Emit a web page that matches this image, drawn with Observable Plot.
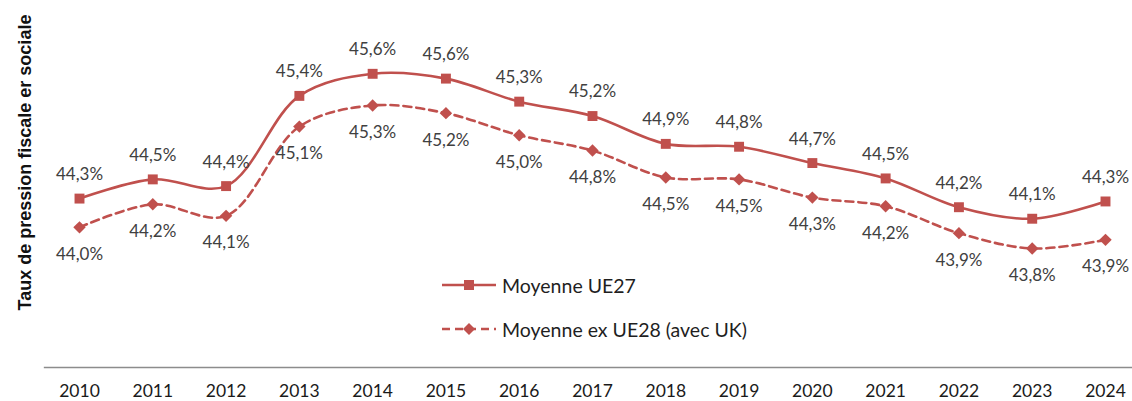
<!DOCTYPE html>
<html>
<head>
<meta charset="utf-8">
<script src="https://cdn.jsdelivr.net/npm/d3@7"></script>
<script src="https://cdn.jsdelivr.net/npm/@observablehq/plot@0.6"></script>
<style>
  html, body { margin: 0; padding: 0; background: #fff; }
  #wrap { position: relative; width: 1132px; height: 401px; }
  .legend { position: absolute; left: 442px; font-family: Lato, "Open Sans", sans-serif; font-size: 19.5px; color: #1f1f1f; display: flex; align-items: center; }
  .legend svg { margin-right: 6px; }
</style>
</head>
<body>
<div id="wrap"></div>
<script>
const years = [2010, 2011, 2012, 2013, 2014, 2015, 2016, 2017, 2018, 2019, 2020, 2021, 2022, 2023, 2024];
const ue27 = [44.33, 44.53, 44.46, 45.40, 45.63, 45.58, 45.34, 45.19, 44.90, 44.87, 44.70, 44.54, 44.24, 44.12, 44.30];
const exUe28 = [44.03, 44.27, 44.15, 45.08, 45.30, 45.22, 44.99, 44.83, 44.55, 44.53, 44.34, 44.25, 43.97, 43.81, 43.90];
const ue27Labels = ["44,3%", "44,5%", "44,4%", "45,4%", "45,6%", "45,6%", "45,3%", "45,2%", "44,9%", "44,8%", "44,7%", "44,5%", "44,2%", "44,1%", "44,3%"];
const exUe28Labels = ["44,0%", "44,2%", "44,1%", "45,1%", "45,3%", "45,2%", "45,0%", "44,8%", "44,5%", "44,5%", "44,3%", "44,2%", "43,9%", "43,8%", "43,9%"];
const seriesNames = ["Moyenne UE27", "Moyenne ex UE28 (avec UK)"];
const yTitle = "Taux de pression fiscale er sociale";

const red = "#C0504D";
const labelColor = "#404040";
const a = years.map((y, i) => ({year: y, v: ue27[i], label: ue27Labels[i]}));
const b = years.map((y, i) => ({year: y, v: exUe28[i], label: exUe28Labels[i]}));
const yMin = 42.57;

const chart = Plot.plot({
  width: 1132,
  height: 401,
  marginLeft: 79,
  marginRight: 27,
  marginTop: 21,
  marginBottom: 34,
  style: {background: "transparent", overflow: "visible"},
  x: {type: "linear", domain: [years[0], years[years.length - 1]], axis: null},
  y: {domain: [yMin, 46.175], axis: null},
  marks: [
    Plot.ruleY([yMin], {x1: years[0] - 0.48, x2: years[years.length - 1] + 0.4, stroke: "#8c8c8c", strokeWidth: 1.5, clip: false}),
    Plot.text(years, {x: d => d, y: yMin, text: d => String(d), dy: 24, fontFamily: "Lato, 'Open Sans', sans-serif", fontSize: 17.5, fill: "#1a1a1a"}),
    Plot.line(b, {x: "year", y: "v", curve: "catmull-rom", stroke: red, strokeWidth: 2.6, strokeDasharray: "8,5"}),
    Plot.line(a, {x: "year", y: "v", curve: "catmull-rom", stroke: red, strokeWidth: 2.6}),
    Plot.dot(a, {x: "year", y: "v", symbol: "square", r: 5.6, fill: red, stroke: "none"}),
    Plot.dot(b, {x: "year", y: "v", symbol: "diamond2", r: 5.6, fill: red, stroke: "none"}),
    Plot.text(a, {x: "year", y: "v", text: "label", dy: -24, fontFamily: "Lato, 'Open Sans', sans-serif", fontSize: 17, fill: labelColor}),
    Plot.text(b, {x: "year", y: "v", text: "label", dy: 27, fontFamily: "Lato, 'Open Sans', sans-serif", fontSize: 17, fill: labelColor}),
    Plot.text([yTitle], {frameAnchor: "top-left", text: d => d, rotate: -90, dx: -61, dy: 141, fontFamily: "'Liberation Sans', Arial, sans-serif", fontWeight: "bold", fontSize: 18, fill: "#111", textAnchor: "middle"})
  ]
});

const wrap = document.getElementById("wrap");
wrap.appendChild(chart);

function legendRow(top, name, dashed, square) {
  const div = document.createElement("div");
  div.className = "legend";
  div.style.top = (top - 12) + "px";
  div.style.height = "24px";
  const marker = square
    ? `<rect x="22" y="7" width="10" height="10" fill="${red}"/>`
    : `<path d="M27 6 L33 12 L27 18 L21 12 Z" fill="${red}"/>`;
  div.innerHTML = `<svg width="54" height="24"><line x1="0" y1="12" x2="54" y2="12" stroke="${red}" stroke-width="2.6" ${dashed ? 'stroke-dasharray="8,5"' : ''}/>${marker}</svg><span>${name}</span>`;
  wrap.appendChild(div);
}
legendRow(285, seriesNames[0], false, true);
legendRow(329, seriesNames[1], true, false);
</script>
</body>
</html>
